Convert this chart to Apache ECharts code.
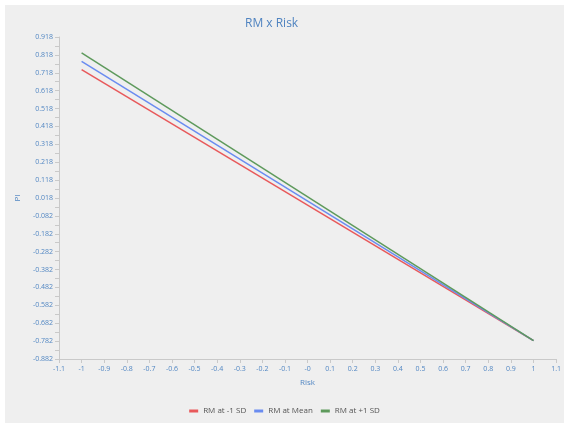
<!DOCTYPE html>
<html>
<head>
<meta charset="utf-8">
<script src="https://cdn.jsdelivr.net/npm/echarts@6/dist/echarts.min.js"></script>
<style>
html,body{margin:0;padding:0;background:#ffffff;}
#chart{position:absolute;left:5px;top:5px;width:559px;height:418px;}
</style>
</head>
<body>
<div id="chart"></div>
<script>
var riskValues = [-1, 1];
var lowSD = [0.736, -0.779];
var meanRM = [0.782, -0.779];
var highSD = [0.829, -0.779];
var seriesNames = ['RM at -1 SD', 'RM at Mean', 'RM at +1 SD'];
var xTickLabels = ['-1.1','-1','-0.9','-0.8','-0.7','-0.6','-0.5','-0.4','-0.3','-0.2','-0.1','-0','0.1','0.2','0.3','0.4','0.5','0.6','0.7','0.8','0.9','1','1.1'];
var yTickLabels = ['-0.882','-0.782','-0.682','-0.582','-0.482','-0.382','-0.282','-0.182','-0.082','0.018','0.118','0.218','0.318','0.418','0.518','0.618','0.718','0.818','0.918'];

function pairs(ys){ return riskValues.map(function(x,i){ return [x, ys[i]]; }); }

var labelColor = '#5287c3';
var axisColor = '#c9c9c9';
var font = 'Open Sans';

var chart = echarts.init(document.getElementById('chart'));
chart.setOption({
  backgroundColor: '#efefef',
  animation: false,
  title: {
    text: 'RM x Risk',
    left: 235, top: 8,
    textStyle: { color: '#4f83c0', fontSize: 12, fontWeight: 'normal', fontFamily: font }
  },
  legend: {
    bottom: 3, left: 'center',
    itemWidth: 9, itemHeight: 3, itemGap: 8,
    icon: 'rect',
    textStyle: { fontSize: 8, color: '#555555', fontFamily: font },
    data: seriesNames
  },
  grid: { left: 54, top: 32, width: 499, height: 322, containLabel: false },
  xAxis: {
    type: 'value', min: -1.1, max: 1.1, interval: 0.1,
    name: 'Risk', nameLocation: 'middle', nameGap: 20,
    nameTextStyle: { color: labelColor, fontSize: 8, fontFamily: font },
    axisLine: { show: true, onZero: false, lineStyle: { color: axisColor } },
    axisTick: { show: true, length: 4, lineStyle: { color: axisColor } },
    splitLine: { show: false },
    axisLabel: {
      fontSize: 7, color: labelColor, fontFamily: font, margin: 6,
      formatter: function(v){ return xTickLabels[Math.round((v + 1.1) * 10)]; }
    }
  },
  yAxis: {
    type: 'value', min: -0.882, max: 0.918, interval: 0.1,
    name: 'PI', nameLocation: 'middle', nameGap: 37, nameRotate: 90,
    nameTextStyle: { color: labelColor, fontSize: 8, fontFamily: font },
    axisLine: { show: true, onZero: false, lineStyle: { color: axisColor } },
    axisTick: { show: true, length: 4, lineStyle: { color: axisColor } },
    minorTick: { show: true, splitNumber: 2, length: 4, lineStyle: { color: axisColor } },
    splitLine: { show: false },
    axisLabel: {
      fontSize: 7, color: labelColor, fontFamily: font, margin: 6,
      formatter: function(v){ return yTickLabels[Math.round((v + 0.882) * 10)]; }
    }
  },
  series: [
    { name: seriesNames[0], type: 'line', data: pairs(lowSD), symbol: 'none', color: '#e8595b', lineStyle: { width: 1.5 } },
    { name: seriesNames[1], type: 'line', data: pairs(meanRM), symbol: 'none', color: '#6a8cf0', lineStyle: { width: 1.5 } },
    { name: seriesNames[2], type: 'line', data: pairs(highSD), symbol: 'none', color: '#5e9a5c', lineStyle: { width: 1.5 } }
  ]
});
</script>
</body>
</html>
